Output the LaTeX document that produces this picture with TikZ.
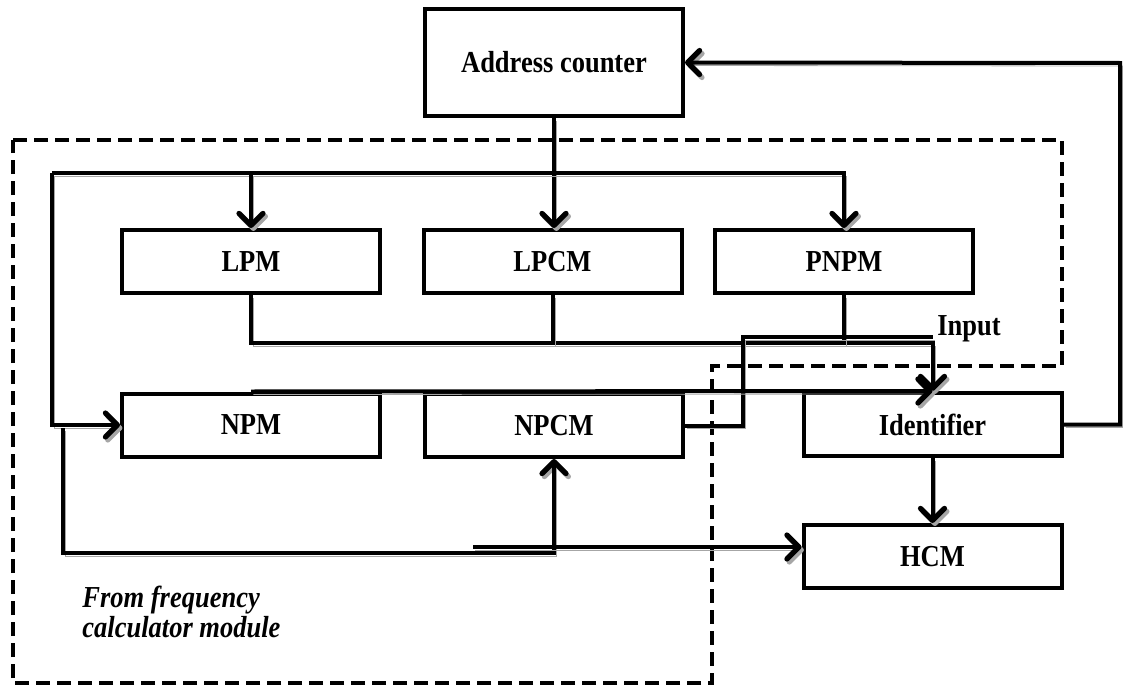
\documentclass[tikz,border=0pt]{standalone}
\usepackage{fontspec}
\setmainfont{Liberation Serif}
\usepackage{graphicx}
\usepackage{tikz}
\usetikzlibrary{arrows.meta,positioning}
\newcommand\tallt[1]{\scalebox{1}[1.15]{#1}}
\tikzstyle{module}=[draw,rectangle,line width=2pt,minimum width=129pt,minimum height=31.5pt,inner sep=0pt,font=\fontsize{13.25}{15}\selectfont\bfseries]
\tikzstyle{link}=[line width=2pt,preaction={draw=black!35,transform canvas={shift={(1.2pt,-1.5pt)}}}]
\tikzstyle{flow}=[link,-{Straight Barb[length=6pt,width=12pt,line width=2.6pt,round]}]
\tikzstyle{region}=[line width=2pt,dash pattern=on 7pt off 3.5pt]

\begin{document}
\begin{tikzpicture}[x=0.5pt,y=-0.5pt]
\useasboundingbox (0,0) rectangle (1126,685);
\draw[region] (13,140) -- (1062,140) -- (1062,366) -- (712,366) -- (712,683) -- (13,683) -- cycle;

\node[module,minimum height=53.5pt] (addr) at (554,62.5) {\tallt{Address counter}};
\node[module] (lpm) at (251,261.5) {\tallt{LPM}};
\node[module] (lpcm) at (552.5,261.5) {\tallt{LPCM}};
\node[module] (pnpm) at (844,261.5) {\tallt{PNPM}};
\node[module] (npm) at (251,425) {\tallt{NPM}};
\node[module] (npcm) at (554,425.5) {\tallt{NPCM}};
\node[module] (ident) at (932.5,424.5) {\tallt{Identifier}};
\node[module,below=32.5pt of ident] (hcm) {\tallt{HCM}};
\node[anchor=base west,inner sep=0pt,font=\fontsize{13.25}{15}\selectfont\bfseries] (input) at (937,335) {\tallt{Input}};
\node[anchor=base west,align=left,inner sep=0pt,font=\fontsize{13.25}{15}\selectfont\bfseries\itshape] (freq) at (82,637) {\tallt{From frequency}\\\tallt{calculator module}};

\coordinate (busL) at (52,173);
\coordinate (mrg) at (933,343);
\coordinate (loop) at (743,337);
\coordinate (inA) at (63,428);
\coordinate (inB) at (63,553);
\coordinate (inC) at (473,547);
\coordinate (fb) at (1120,63);

\draw[flow] (addr.south) -- (addr.south |- lpcm.north);
\draw[flow] (busL) -| (pnpm.north);
\draw[flow] (lpm.north |- busL) -- (lpm.north);
\draw[flow] (busL) |- (npm.west);
\draw[flow] (lpm.south) |- (ident.north |- mrg) -- (ident.north);
\draw[link] (lpcm.south) -- (lpcm.south |- mrg);
\draw[link] (pnpm.south) -- (pnpm.south |- mrg);
\draw[link] (npcm.east) -| (loop) -- (loop -| ident.north);
\draw[flow] (npm.north) -- (ident.north);
\draw[flow] (ident.south) -- (hcm.north);
\draw[flow] (ident.east) -| (fb) -- (addr.east);
\draw[flow] (inA) -- (inB) -| (npcm.south);
\draw[flow] (inC) -- (inC -| hcm.west);
\end{tikzpicture}
\end{document}
